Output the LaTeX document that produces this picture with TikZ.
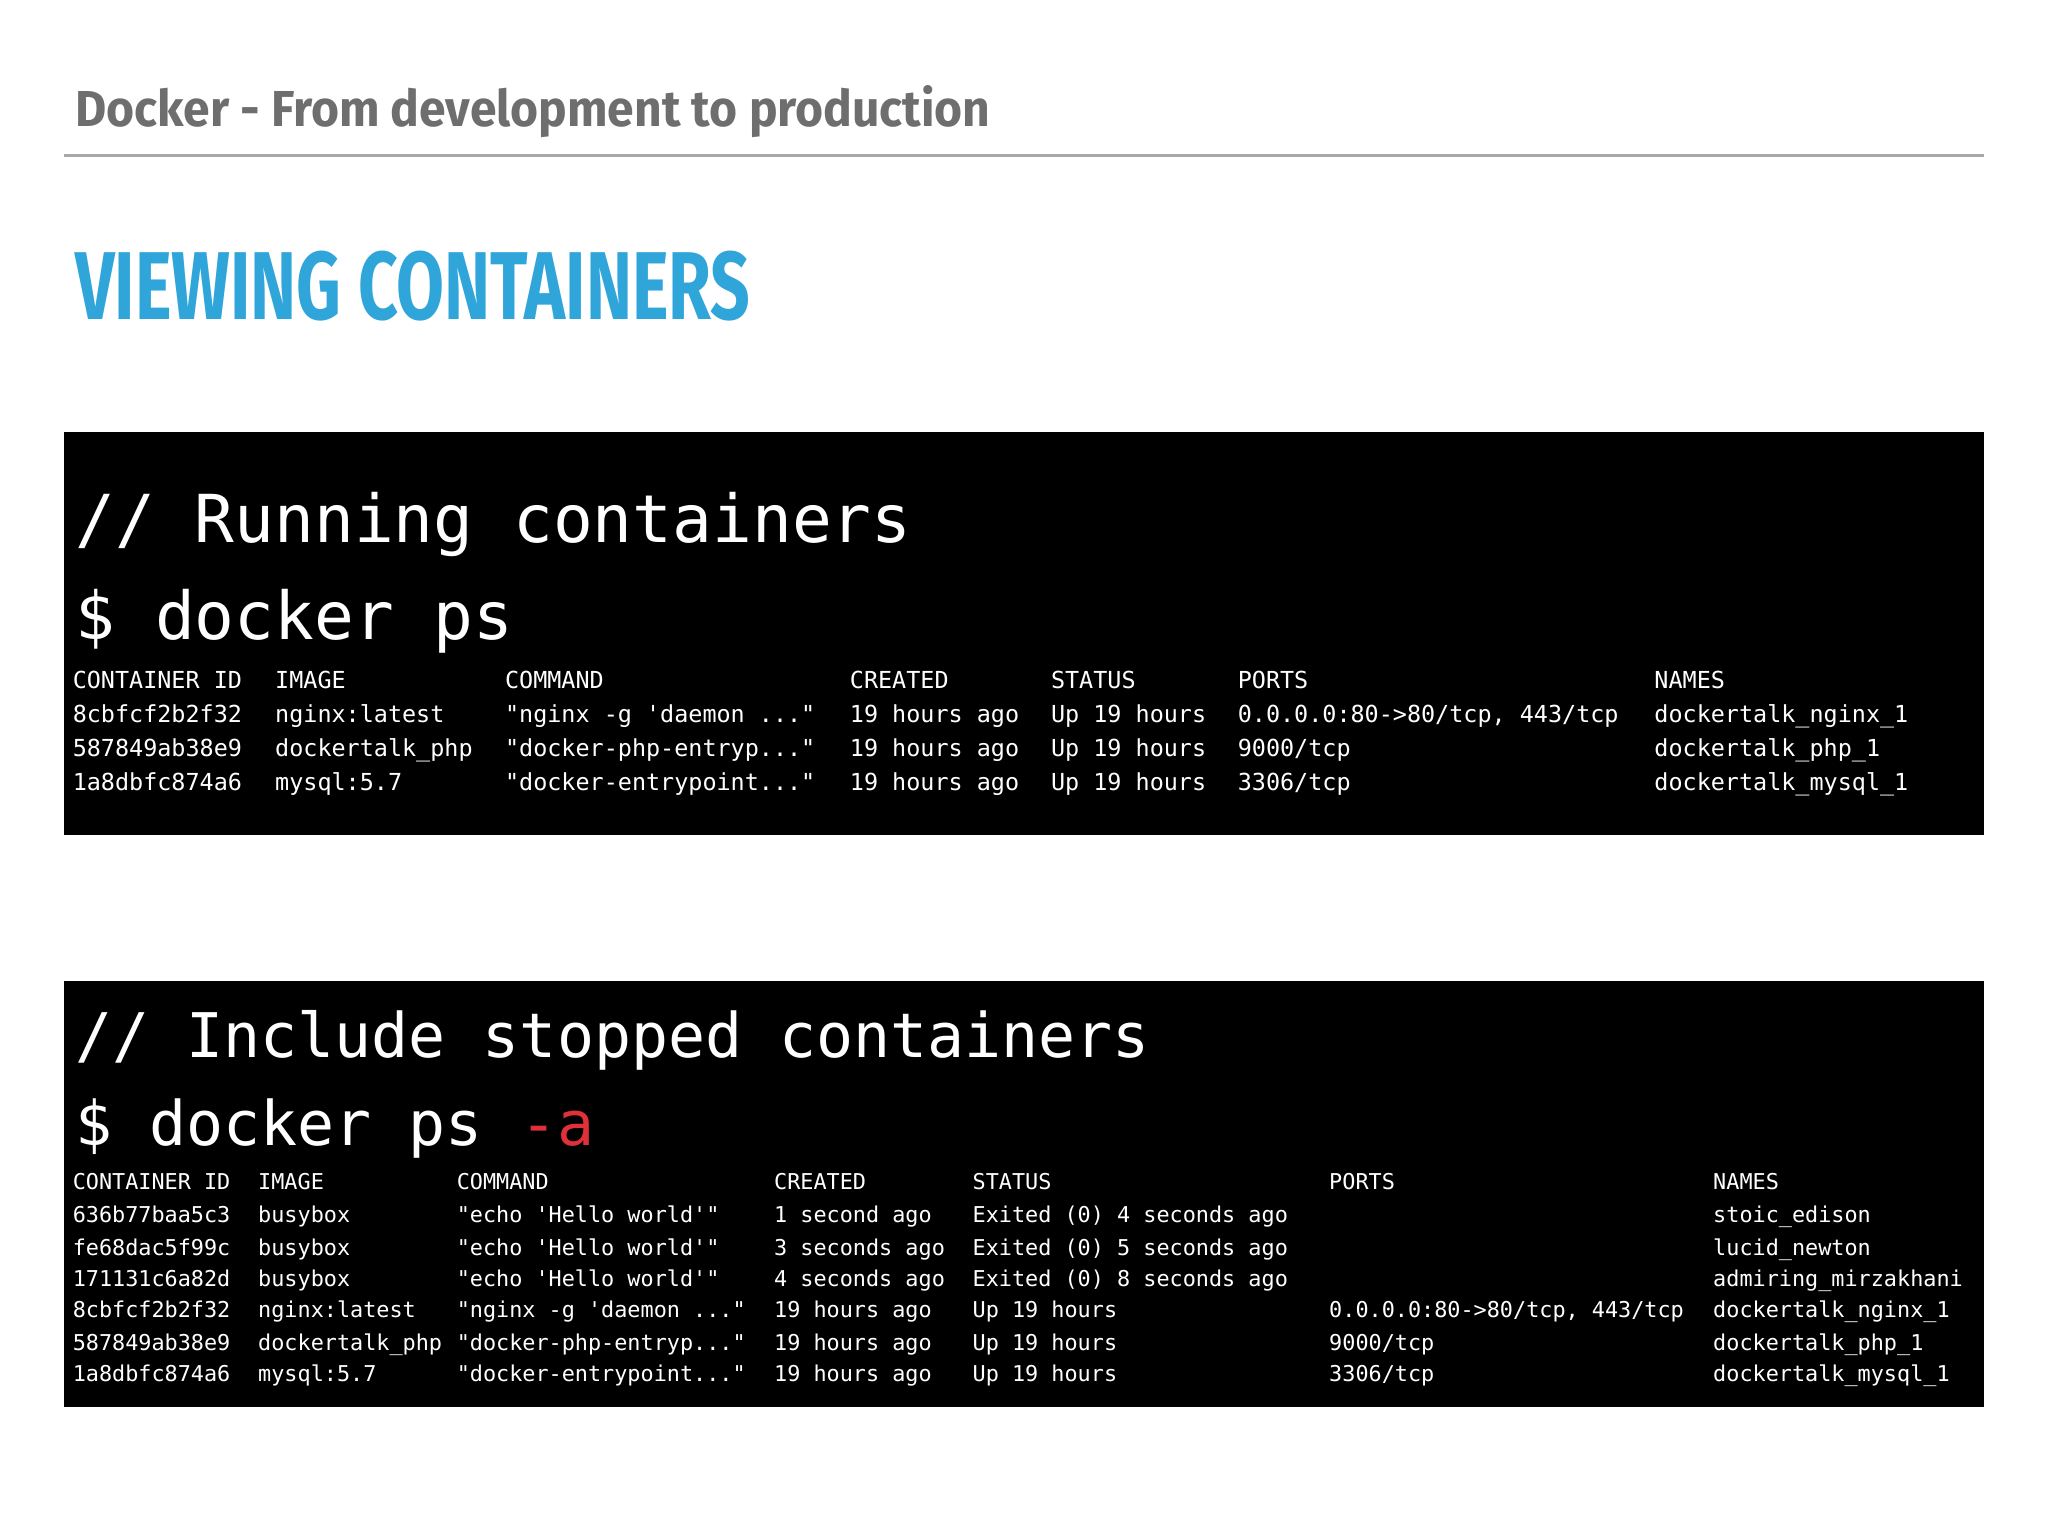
\documentclass[tikz,border=0pt]{standalone}
\usepackage{fontspec}
\setmainfont{Fira Sans}
\setmonofont{DejaVu Sans Mono}
\definecolor{hdr}{HTML}{6E6E6E}
\definecolor{ttl}{HTML}{30A5DA}
\definecolor{flag}{HTML}{E0303A}
\tikzset{
 big/.style={anchor=base west,inner sep=0,text=white,font=\ttfamily\fontsize{14.4}{15}\selectfont},
 bigb/.style={anchor=base west,inner sep=0,text=white,font=\ttfamily\fontsize{13.4}{14}\selectfont},
 ta/.style={anchor=base west,inner sep=0,text=white,font=\ttfamily\fontsize{5.1}{6}\selectfont},
 tb/.style={anchor=base west,inner sep=0,text=white,font=\ttfamily\fontsize{4.75}{6}\selectfont},
}
\newcommand\rowA[8]{%
 \node[ta] at (55,#1) {#2};\node[ta] at (210,#1) {#3};\node[ta] at (386,#1) {#4};
 \node[ta] at (650,#1) {#5};\node[ta] at (804,#1) {#6};
 \node[ta] at (947,#1) {#7};\node[ta] at (1266,#1) {#8};}
\newcommand\rowB[8]{%
 \node[tb] at (55,#1) {#2};\node[tb] at (197,#1) {#3};\node[tb] at (349,#1) {#4};
 \node[tb] at (592,#1) {#5};\node[tb] at (744,#1) {#6};
 \node[tb] at (1017,#1) {#7};\node[tb] at (1311,#1) {#8};}
\begin{document}
\begin{tikzpicture}[x=0.01cm,y=-0.01cm]
\fill[white] (0,0) rectangle (1568,1176);
\node[anchor=base west,inner sep=0,text=hdr,font=\fontsize{11}{12}\selectfont\bfseries,xscale=0.95] (h) at (57,97) {Docker - From development to production};
\draw[hdr!60,line width=0.8pt] (49,119) coordinate (l1) -- (1519,119) coordinate (l2);
\node[anchor=base west,inner sep=0,text=ttl,font=\fontsize{21}{22}\selectfont\bfseries,xscale=0.72] (t) at (57,245) {VIEWING CONTAINERS};
\fill[black] (49,331) rectangle (1519,639);
\fill[black] (49,751) rectangle (1519,1077);
\node[big] (a1) at (57,415) {// Running containers};
\node[big] (a2) at (57,490) {\$ docker ps};
\rowA{527}{CONTAINER ID}{IMAGE}{COMMAND}{CREATED}{STATUS}{PORTS}{NAMES}
\rowA{553}{8cbfcf2b2f32}{nginx:latest}{"nginx -g 'daemon ..."}{19 hours ago}{Up 19 hours}{0.0.0.0:80->80/tcp, 443/tcp}{dockertalk\_nginx\_1}
\rowA{579}{587849ab38e9}{dockertalk\_php}{"docker-php-entryp..."}{19 hours ago}{Up 19 hours}{9000/tcp}{dockertalk\_php\_1}
\rowA{605}{1a8dbfc874a6}{mysql:5.7}{"docker-entrypoint..."}{19 hours ago}{Up 19 hours}{3306/tcp}{dockertalk\_mysql\_1}
\node[bigb] (b1) at (57,810) {// Include stopped containers};
\node[bigb] (b2) at (57,877) {\$ docker ps \textcolor{flag}{-a}};
\rowB{911}{CONTAINER ID}{IMAGE}{COMMAND}{CREATED}{STATUS}{PORTS}{NAMES}
\rowB{936}{636b77baa5c3}{busybox}{"echo 'Hello world'"}{1 second ago}{Exited (0) 4 seconds ago}{}{stoic\_edison}
\rowB{961}{fe68dac5f99c}{busybox}{"echo 'Hello world'"}{3 seconds ago}{Exited (0) 5 seconds ago}{}{lucid\_newton}
\rowB{985}{171131c6a82d}{busybox}{"echo 'Hello world'"}{4 seconds ago}{Exited (0) 8 seconds ago}{}{admiring\_mirzakhani}
\rowB{1009}{8cbfcf2b2f32}{nginx:latest}{"nginx -g 'daemon ..."}{19 hours ago}{Up 19 hours}{0.0.0.0:80->80/tcp, 443/tcp}{dockertalk\_nginx\_1}
\rowB{1034}{587849ab38e9}{dockertalk\_php}{"docker-php-entryp..."}{19 hours ago}{Up 19 hours}{9000/tcp}{dockertalk\_php\_1}
\rowB{1058}{1a8dbfc874a6}{mysql:5.7}{"docker-entrypoint..."}{19 hours ago}{Up 19 hours}{3306/tcp}{dockertalk\_mysql\_1}
\end{tikzpicture}
\end{document}
